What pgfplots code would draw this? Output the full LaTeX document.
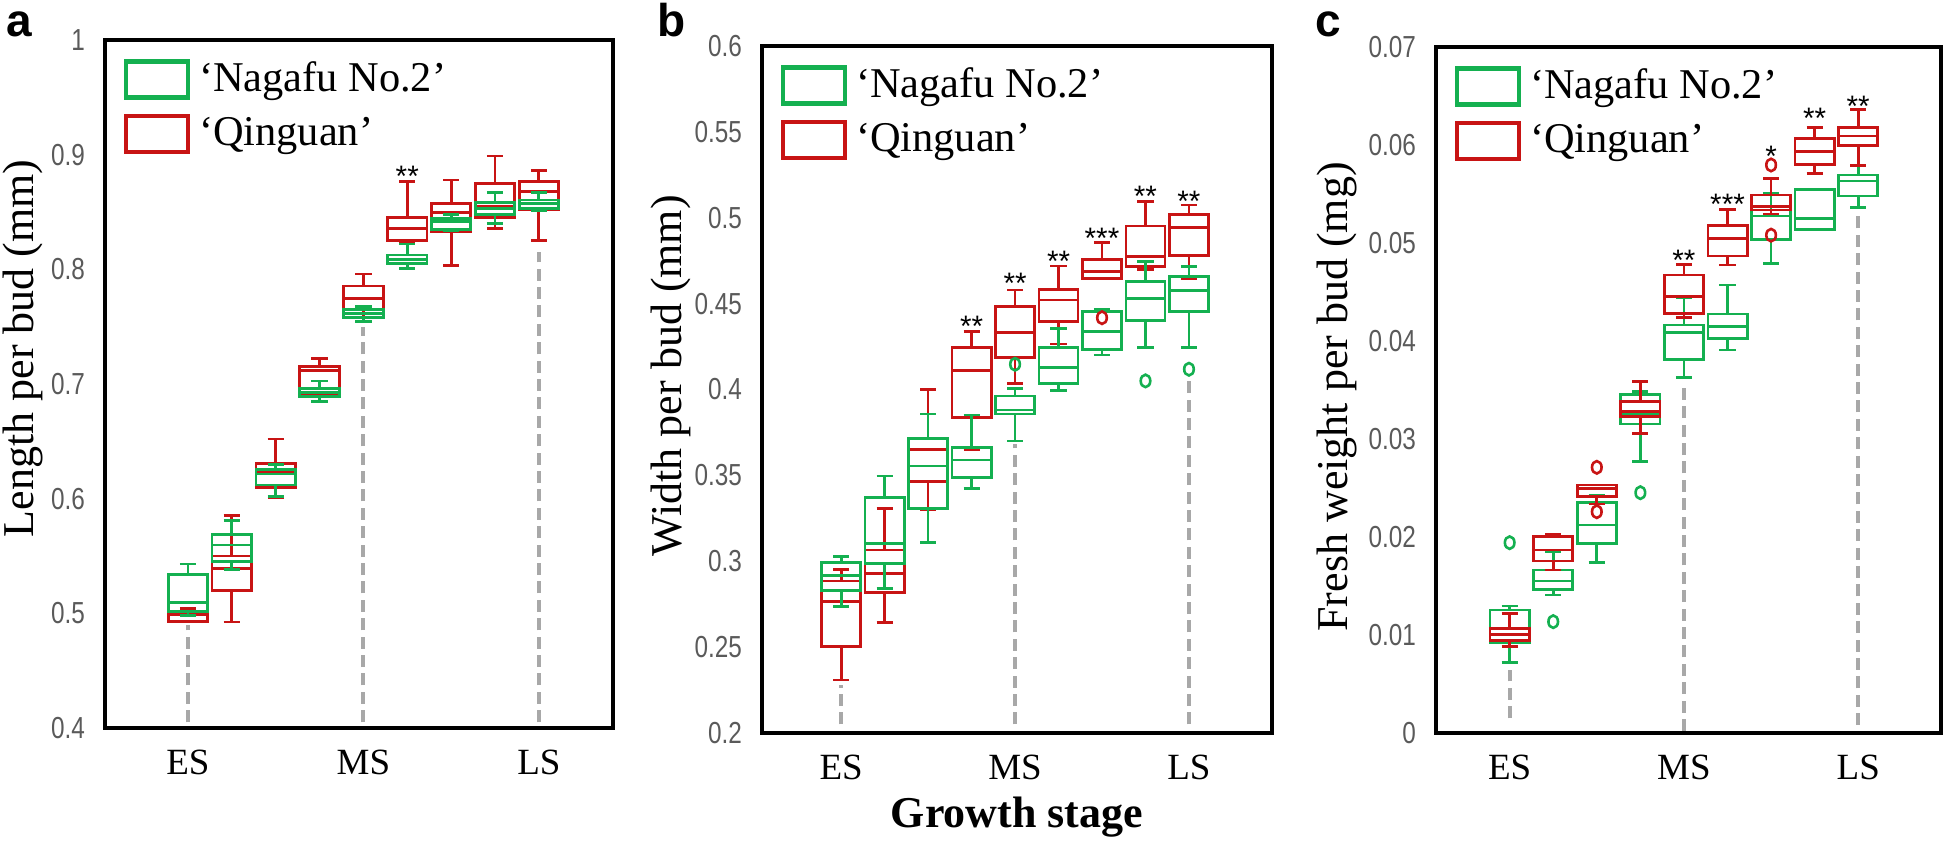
\documentclass[border=0pt]{standalone}
\usepackage{fontspec}
\setmainfont{Liberation Serif}
\newfontfamily\tickfont[FakeStretch=0.8]{Liberation Sans}
\newfontfamily\sansfont{Liberation Sans}
\usepackage{pgfplots}
\pgfplotsset{compat=1.18}
\usepgfplotslibrary{statistics}
\definecolor{ngreen}{RGB}{20,176,80}
\definecolor{qred}{RGB}{200,20,20}
\definecolor{tickgray}{RGB}{90,90,90}
\definecolor{dashgray}{RGB}{168,168,168}

\newcommand{\bp}[7]{%
\addplot[forget plot, draw=#1, line width=0.7pt, solid, boxplot prepared={draw direction=y, draw position=#2, lower whisker=#3, lower quartile=#4, median=#5, upper quartile=#6, upper whisker=#7}] coordinates {};}

\tikzset{stars/.style={font=\sansfont\fontsize{7.4}{8}\selectfont, anchor=center, yshift=-1.6pt}}
\pgfplotsset{
  myaxis/.style={
    scale only axis,
    xtick={1,5,9}, xticklabels={ES,MS,LS},
    tick style={draw=none},
    axis line style={line width=0.8pt},
    xticklabel style={font=\fontsize{9.25}{10}\selectfont, yshift=-2pt},
    yticklabel style={font=\tickfont\fontsize{7.6}{8}\selectfont, text=tickgray, xshift=-1.5pt},
    /pgf/number format/assume math mode=true,
    ylabel style={font=\fontsize{11}{13}\selectfont, anchor=center},
    boxplot/draw direction=y,
    boxplot/box extend=0.9, boxplot/whisker extend=0.37,
    legend image code/.code={\draw[##1, line width=1.1pt] (0pt,-4.5pt) rectangle (15.5pt,4.5pt);},
    legend style={draw=none, fill=none, at={(axis description cs:0,1)}, anchor=north west, xshift=4.5pt, yshift=-3pt, inner sep=0pt, row sep=0.5pt, font=\fontsize{10.6}{12}\selectfont, nodes={inner sep=2.2pt}},
    legend cell align=left,
    clip=false,
  },
  dline/.style={forget plot, dashgray, line width=1pt, dash pattern=on 3pt off 1.6pt},
  outg/.style={forget plot, only marks, mark=o, mark size=1.2pt, ngreen, mark options={line width=0.65pt, yscale=1.3, solid}},
  outr/.style={forget plot, only marks, mark=o, mark size=1.2pt, qred, mark options={line width=0.65pt, yscale=1.3, solid}},
}

\begin{document}
\begin{tikzpicture}
\useasboundingbox (0,0) rectangle (486.5pt,211pt);

% ---------------- panel a ----------------
\begin{axis}[myaxis, at={(26.25pt,29pt)}, anchor=south west, width=127pt, height=172pt,
  xmin=-0.89, xmax=10.69, ymin=0.4, ymax=1, ytick={0.4,0.5,...,1.0},
  ylabel={Length per bud (mm)}, ylabel style={at={(axis description cs:-0.161,0.552)}}]
\addlegendimage{draw=ngreen}\addlegendentry{‘Nagafu No.2’}
\addlegendimage{draw=qred}\addlegendentry{‘Qinguan’}
\addplot[dline] coordinates {(1,0.405) (1,0.49)};
\addplot[dline] coordinates {(5,0.405) (5,0.75)};
\addplot[dline] coordinates {(9,0.405) (9,0.815)};
\bp{qred}{1}{0.493}{0.493}{0.4985}{0.501}{0.504}
\bp{qred}{2}{0.4925}{0.520}{0.539}{0.550}{0.585}
\bp{qred}{3}{0.6006}{0.610}{0.6235}{0.631}{0.652}
\bp{qred}{4}{0.6846}{0.690}{0.7116}{0.715}{0.7224}
\bp{qred}{5}{0.754}{0.7645}{0.7747}{0.7855}{0.796}
\bp{qred}{6}{0.8227}{0.825}{0.8358}{0.8454}{0.8765}
\bp{qred}{7}{0.8032}{0.8328}{0.8497}{0.8576}{0.8779}
\bp{qred}{8}{0.8358}{0.8454}{0.8547}{0.875}{0.8988}
\bp{qred}{9}{0.825}{0.8517}{0.8677}{0.8765}{0.886}
\bp{ngreen}{1}{0.498}{0.5014}{0.5096}{0.534}{0.543}
\bp{ngreen}{2}{0.538}{0.545}{0.5596}{0.569}{0.581}
\bp{ngreen}{3}{0.6017}{0.6119}{0.6215}{0.6256}{0.630}
\bp{ngreen}{4}{0.6846}{0.689}{0.6925}{0.6963}{0.7026}
\bp{ngreen}{5}{0.7544}{0.758}{0.7617}{0.765}{0.7674}
\bp{ngreen}{6}{0.8006}{0.8053}{0.8088}{0.8125}{0.8221}
\bp{ngreen}{7}{0.834}{0.835}{0.8416}{0.8445}{0.848}
\bp{ngreen}{8}{0.840}{0.848}{0.8532}{0.8581}{0.8668}
\bp{ngreen}{9}{0.8512}{0.8532}{0.8576}{0.8605}{0.8668}
\node[stars] at (axis cs:6,0.8866) {**};
\end{axis}

% ---------------- panel b ----------------
\begin{axis}[myaxis, at={(190.5pt,27.75pt)}, anchor=south west, width=127.5pt, height=171.75pt,
  xmin=-0.82, xmax=10.91, ymin=0.2, ymax=0.6, ytick={0.2,0.25,...,0.61},
  yticklabel style={/pgf/number format/fixed, /pgf/number format/precision=2},
  ylabel={Width per bud (mm)}, ylabel style={at={(axis description cs:-0.179,0.52)}},
  xlabel={Growth stage}, xlabel style={at={(axis description cs:0.5,-0.122)}, anchor=center, font=\bfseries\fontsize{11}{13}\selectfont}]
\addlegendimage{draw=ngreen}\addlegendentry{‘Nagafu No.2’}
\addlegendimage{draw=qred}\addlegendentry{‘Qinguan’}
\addplot[dline] coordinates {(1,0.205) (1,0.228)};
\addplot[dline] coordinates {(5,0.205) (5,0.368)};
\addplot[dline] coordinates {(9,0.205) (9,0.405)};
\bp{qred}{1}{0.2309}{0.2503}{0.2765}{0.2885}{0.2953}
\bp{qred}{2}{0.2645}{0.2817}{0.293}{0.3065}{0.3308}
\bp{qred}{3}{0.3302}{0.3463}{0.3652}{0.3716}{0.4001}
\bp{qred}{4}{0.3648}{0.3838}{0.4109}{0.4246}{0.4337}
\bp{qred}{5}{0.4036}{0.4187}{0.4331}{0.4482}{0.4579}
\bp{qred}{6}{0.4265}{0.4395}{0.4521}{0.4583}{0.4719}
\bp{qred}{7}{0.4647}{0.4647}{0.4686}{0.4758}{0.4855}
\bp{qred}{8}{0.47}{0.4715}{0.4773}{0.4952}{0.5093}
\bp{qred}{9}{0.4647}{0.4781}{0.4942}{0.502}{0.5074}
\bp{ngreen}{1}{0.2735}{0.2829}{0.2916}{0.2992}{0.3027}
\bp{ngreen}{2}{0.2843}{0.2988}{0.3105}{0.3372}{0.3496}
\bp{ngreen}{3}{0.3108}{0.3308}{0.3555}{0.3716}{0.3857}
\bp{ngreen}{4}{0.3424}{0.3489}{0.359}{0.3661}{0.3852}
\bp{ngreen}{5}{0.37}{0.3857}{0.3881}{0.3962}{0.4007}
\bp{ngreen}{6}{0.3993}{0.4036}{0.4127}{0.4246}{0.4356}
\bp{ngreen}{7}{0.4201}{0.4234}{0.4337}{0.4453}{0.4465}
\bp{ngreen}{8}{0.4246}{0.44}{0.4531}{0.4628}{0.4744}
\bp{ngreen}{9}{0.4246}{0.4453}{0.4575}{0.4657}{0.4715}
\addplot[outg] coordinates {(5,0.4147) (8,0.405) (9,0.4118)};
\addplot[outr] coordinates {(7,0.4418)};
\node[stars] at (axis cs:4,0.4405) {**};
\node[stars] at (axis cs:5,0.4657) {**};
\node[stars] at (axis cs:6,0.4783) {**};
\node[stars] at (axis cs:7,0.4919) {***};
\node[stars] at (axis cs:8,0.5162) {**};
\node[stars] at (axis cs:9,0.5132) {**};
\end{axis}

% ---------------- panel c ----------------
\begin{axis}[myaxis, at={(359pt,27.75pt)}, anchor=south west, width=126.25pt, height=171.5pt,
  xmin=-0.69, xmax=10.9, ymin=0, ymax=0.07, ytick={0,0.01,0.02,0.03,0.04,0.05,0.06,0.07},
  scaled y ticks=false,
  yticklabel style={/pgf/number format/fixed, /pgf/number format/precision=2},
  ylabel={Fresh weight per bud (mg)}, ylabel style={at={(axis description cs:-0.196,0.49)}}]
\addlegendimage{draw=ngreen}\addlegendentry{‘Nagafu No.2’}
\addlegendimage{draw=qred}\addlegendentry{‘Qinguan’}
\addplot[dline] coordinates {(1,0.0015) (1,0.0064)};
\addplot[dline] coordinates {(5,0.0002) (5,0.0355)};
\addplot[dline] coordinates {(9,0.0008) (9,0.053)};
\bp{ngreen}{1}{0.00717}{0.00921}{0.0100}{0.01255}{0.01296}
\bp{ngreen}{2}{0.01408}{0.01466}{0.01551}{0.01663}{0.0185}
\bp{ngreen}{3}{0.01742}{0.01936}{0.02122}{0.02354}{0.02429}
\bp{ngreen}{4}{0.02768}{0.03153}{0.03262}{0.03456}{0.03483}
\bp{ngreen}{5}{0.0363}{0.03813}{0.04085}{0.04163}{0.04442}
\bp{ngreen}{6}{0.03908}{0.04027}{0.04146}{0.04275}{0.04571}
\bp{ngreen}{7}{0.04793}{0.05037}{0.05275}{0.05337}{0.0551}
\bp{ngreen}{8}{0.0514}{0.0514}{0.05252}{0.05548}{0.05548}
\bp{ngreen}{9}{0.0536}{0.05479}{0.05633}{0.05694}{0.05789}
\bp{qred}{1}{0.0088}{0.00942}{0.01007}{0.01064}{0.01221}
\bp{qred}{2}{0.01663}{0.01755}{0.01867}{0.02003}{0.02028}
\bp{qred}{3}{0.02337}{0.02411}{0.02497}{0.02531}{0.02531}
\bp{qred}{4}{0.03058}{0.03228}{0.0328}{0.0338}{0.03585}
\bp{qred}{5}{0.04238}{0.04283}{0.04452}{0.04673}{0.04782}
\bp{qred}{6}{0.04776}{0.04867}{0.05048}{0.0518}{0.05344}
\bp{qred}{7}{0.05296}{0.05337}{0.0537}{0.0549}{0.0566}
\bp{qred}{8}{0.05712}{0.05803}{0.05931}{0.06068}{0.0618}
\bp{qred}{9}{0.05789}{0.05993}{0.06092}{0.06176}{0.06364}
\addplot[outg] coordinates {(1,0.01942) (2,0.01136) (4,0.02452)};
\addplot[outr] coordinates {(3,0.02711) (3,0.02258) (7,0.05796) (7,0.0508)};
\node[stars] at (axis cs:5,0.04885) {**};
\node[stars] at (axis cs:6,0.05462) {***};
\node[stars] at (axis cs:7,0.05949) {*};
\node[stars] at (axis cs:8,0.0634) {**};
\node[stars] at (axis cs:9,0.06459) {**};
\end{axis}

\node[anchor=base west, font=\sansfont\bfseries\fontsize{11.5}{12}\selectfont, inner sep=0pt] at (1.5pt,201.75pt) {a};
\node[anchor=base west, font=\sansfont\bfseries\fontsize{11.5}{12}\selectfont, inner sep=0pt] at (164.25pt,201.75pt) {b};
\node[anchor=base west, font=\sansfont\bfseries\fontsize{11.5}{12}\selectfont, inner sep=0pt] at (328.75pt,201.75pt) {c};
\end{tikzpicture}
\end{document}
